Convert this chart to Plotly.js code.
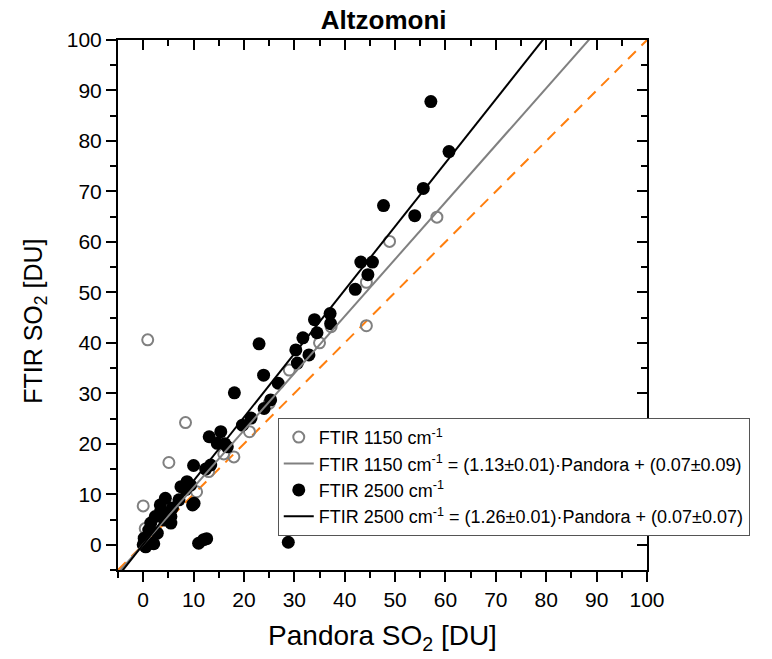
<!DOCTYPE html>
<html>
<head>
<meta charset="utf-8">
<script src="https://cdn.plot.ly/plotly-3.0.1.min.js"></script>
<style>html,body{margin:0;padding:0;background:#fff;}</style>
</head>
<body>
<div id="chart" style="width:772px;height:659px;"></div>
<script>
// FTIR 1150 cm-1 (open gray circles)
var pandora1150 = [0.9, 8.4, 5.1, 0.0, 0.4, 2.0, 10.6, 13.0, 16.0, 18.0, 21.1, 25.0, 29.0, 35.0, 37.3, 44.3, 44.3, 48.9, 58.3];
var ftir1150    = [40.6, 24.2, 16.3, 7.7, 3.2, 2.3, 10.5, 14.5, 18.0, 17.4, 22.4, 28.0, 34.6, 40.0, 43.2, 52.0, 43.4, 60.1, 64.9];

// FTIR 2500 cm-1 (filled black circles)
var pandora2500 = [0.0, 0.5, 0.2, 1.1, 1.5, 2.1, 1.8, 2.8, 2.4, 3.4, 3.5, 4.4, 4.2, 4.8, 5.5, 5.5, 5.8, 7.1, 7.5, 8.4, 8.7, 9.4, 9.8, 10.1, 10.0, 12.4, 13.4, 11.0, 12.0, 12.6, 28.8, 13.1, 15.4, 16.2, 16.7, 14.7, 18.1, 19.7, 21.4, 23.0, 24.0, 25.3, 23.9, 26.8, 30.3, 30.6, 31.7, 32.9, 34.5, 34.0, 37.1, 37.2, 42.1, 43.2, 44.6, 45.5, 47.7, 53.9, 55.6, 57.1, 60.7];
var ftir2500    = [0.0, -0.4, 1.3, 2.9, 4.3, 0.2, 0.3, 2.3, 5.6, 7.9, 6.9, 9.2, 4.9, 6.3, 5.6, 4.3, 7.3, 8.9, 11.5, 10.9, 12.5, 11.8, 7.9, 8.2, 15.7, 15.0, 15.8, 0.3, 1.0, 1.2, 0.5, 21.4, 22.4, 20.0, 19.4, 20.1, 30.1, 23.7, 25.1, 39.8, 27.0, 28.7, 33.6, 32.0, 38.6, 36.0, 41.0, 37.6, 42.0, 44.6, 45.8, 43.8, 50.6, 56.0, 53.5, 56.0, 67.2, 65.2, 70.6, 87.8, 77.9];

// Fit lines: slope, intercept
var fit1150 = {slope: 1.13, intercept: 0.07};
var fit2500 = {slope: 1.26, intercept: 0.07};
var lineX = [-5, 100];

var names = [
  'FTIR 1150 cm<sup>-1</sup>',
  'FTIR 1150 cm<sup>-1</sup> = (1.13\u00B10.01)\u00B7Pandora + (0.07\u00B10.09)',
  'FTIR 2500 cm<sup>-1</sup>',
  'FTIR 2500 cm<sup>-1</sup> = (1.26\u00B10.01)\u00B7Pandora + (0.07\u00B10.07)'
];

function fitY(f) { return lineX.map(function (x) { return f.slope * x + f.intercept; }); }

var traces = [
  {x: lineX, y: lineX, mode: 'lines', line: {color: '#ff7f0e', width: 2, dash: '11px,8px'}, showlegend: false, hoverinfo: 'skip'},
  {x: pandora1150, y: ftir1150, mode: 'markers', name: names[0], legendrank: 1,
   marker: {symbol: 'circle-open', size: 11, color: '#808080', line: {width: 2, color: '#808080'}}},
  {x: pandora2500, y: ftir2500, mode: 'markers', name: names[2], legendrank: 3,
   marker: {symbol: 'circle', size: 13, color: '#000000'}},
  {x: lineX, y: fitY(fit1150), mode: 'lines', name: names[1], legendrank: 2, line: {color: '#808080', width: 2}},
  {x: lineX, y: fitY(fit2500), mode: 'lines', name: names[3], legendrank: 4, line: {color: '#000000', width: 2}},
  {x: [], y: [], xaxis: 'x2', yaxis: 'y2', showlegend: false, hoverinfo: 'skip'}
];

var font = 'Arial, "Liberation Sans", sans-serif';
var axBase = {
  range: [-5, 100], dtick: 10, tick0: 0, showgrid: false, zeroline: false,
  ticks: 'outside', ticklen: 10, tickwidth: 2, tickcolor: '#000',
  showline: true, linewidth: 2, linecolor: '#000', mirror: true,
  tickfont: {family: font, size: 21, color: '#000'},
  minor: {dtick: 5, tick0: 0, ticks: 'outside', ticklen: 6, tickwidth: 2, tickcolor: '#000', showgrid: false}
};

var layout = {
  width: 772, height: 659,
  margin: {l: 118, r: 125, t: 40, b: 89},
  paper_bgcolor: '#fff', plot_bgcolor: '#fff',
  font: {family: font, color: '#000'},
  title: {text: '<b>Altzomoni</b>', font: {family: font, size: 26, color: '#000'}, x: 0.497, xanchor: 'center', y: 0.97, yanchor: 'middle'},
  xaxis: Object.assign({}, axBase, {title: {text: 'Pandora SO<sub>2</sub> [DU]', font: {family: font, size: 28}, standoff: 15}}),
  yaxis: Object.assign({}, axBase, {title: {text: ''}}),
  xaxis2: {range: [-5, 100], dtick: 10, tick0: 0, overlaying: 'x', side: 'top', anchor: 'y', showgrid: false, zeroline: false,
    showline: false, showticklabels: false, ticks: 'inside', ticklen: 10, tickwidth: 2, tickcolor: '#000',
    minor: {dtick: 5, tick0: 0, ticks: 'inside', ticklen: 6, tickwidth: 2, tickcolor: '#000', showgrid: false}},
  yaxis2: {range: [-5, 100], dtick: 10, tick0: 0, overlaying: 'y', side: 'right', anchor: 'x', showgrid: false, zeroline: false,
    showline: false, showticklabels: false, ticks: 'inside', ticklen: 10, tickwidth: 2, tickcolor: '#000',
    minor: {dtick: 5, tick0: 0, ticks: 'inside', ticklen: 6, tickwidth: 2, tickcolor: '#000', showgrid: false}},
  annotations: [{
    text: 'FTIR SO<sub>2</sub> [DU]', textangle: -90, showarrow: false,
    xref: 'paper', yref: 'paper', x: -0.157, y: 0.47, xanchor: 'center', yanchor: 'middle',
    font: {family: font, size: 25, color: '#000'}
  }],
  showlegend: true,
  legend: {x: 0.302, y: 0.287, xanchor: 'left', yanchor: 'top', bgcolor: '#fff', bordercolor: '#555', borderwidth: 1,
    font: {family: font, size: 18, color: '#000'}, tracegroupgap: 0, itemwidth: 30}
};

Plotly.newPlot('chart', traces, layout, {displayModeBar: false, staticPlot: true});
</script>
</body>
</html>
